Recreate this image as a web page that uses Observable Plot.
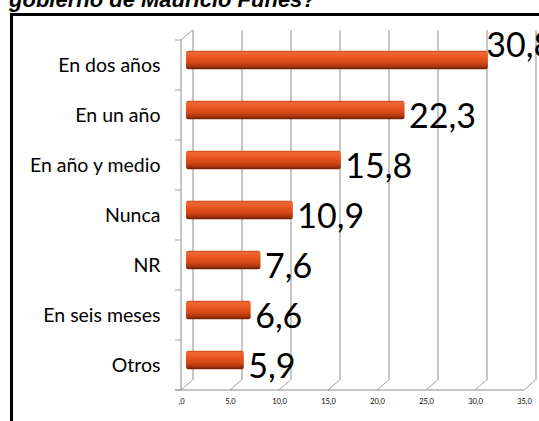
<!DOCTYPE html>
<html>
<head>
<meta charset="utf-8">
<script src="https://cdn.jsdelivr.net/npm/d3@7"></script>
<script src="https://cdn.jsdelivr.net/npm/@observablehq/plot@0.6"></script>
<style>
  html, body { margin: 0; padding: 0; background: #fff; }
  #page { position: relative; width: 539px; height: 421px; overflow: hidden; }
  #title { position: absolute; left: 9px; top: -11px; font: italic bold 22px "Liberation Sans", Arial, sans-serif; line-height: 1; color: #000; white-space: nowrap; }
  #chart { position: absolute; left: 0; top: 14px; }
  #frame { position: absolute; left: 10px; top: 13px; width: 700px; height: 600px; border-left: 3px solid #000; border-top: 3px solid #000; pointer-events: none; }
</style>
</head>
<body>
<div id="page">
  <div id="title">gobierno de Mauricio Funes?</div>
  <div id="chart"></div>
  <div id="frame"></div>
</div>
<script>
const categories = ["En dos años", "En un año", "En año y medio", "Nunca", "NR", "En seis meses", "Otros"];
const values = [30.8, 22.3, 15.8, 10.9, 7.6, 6.6, 5.9];
const tickValues = [0, 5, 10, 15, 20, 25, 30, 35];
const tickLabels = [",0", "5,0", "10,0", "15,0", "20,0", "25,0", "30,0", "35,0"];

const data = categories.map((c, i) => ({cat: c, value: values[i], label: values[i].toFixed(1).replace(".", ",")}));

const DX = 11.5, DY = 10;
const wallColor = "#a0a0a0";

function walls(index, scales, channels, dimensions) {
  const x = scales.x, y = scales.y;
  const top = dimensions.marginTop;
  const bottom = dimensions.height - dimensions.marginBottom;
  const g = d3.create("svg:g").attr("fill", "none").attr("stroke", wallColor).attr("stroke-width", 1);
  const x0 = x(0);
  for (const t of tickValues) {
    g.append("line").attr("x1", x(t)).attr("y1", bottom).attr("x2", x(t) + DX).attr("y2", bottom - DY);
  }
  g.append("line").attr("x1", x0).attr("y1", top).attr("x2", x0 + DX).attr("y2", top - DY);
  const step = y(categories[1]) - y(categories[0]);
  for (let i = 0; i <= categories.length; i++) {
    const yy = y(categories[0]) + i * step;
    g.append("line").attr("x1", x0 - 6).attr("y1", yy).attr("x2", x0).attr("y2", yy);
  }
  g.append("line").attr("x1", x0).attr("y1", top).attr("x2", x0).attr("y2", bottom).attr("stroke", "#8c8c8c");
  g.append("line").attr("x1", x0 - 6).attr("y1", bottom).attr("x2", x(35)).attr("y2", bottom).attr("stroke", "#8c8c8c");
  return g.node();
}

const svg = Plot.plot({
  width: 539,
  height: 407,
  marginLeft: 181,
  marginRight: 15,
  marginTop: 26,
  marginBottom: 31,
  style: {fontFamily: "Lato, sans-serif", background: "transparent", overflow: "hidden"},
  x: {domain: [0, 35], axis: null, label: null},
  y: {domain: categories, padding: 0, axis: null, label: null},
  marks: [
    Plot.ruleX(tickValues, {x: d => d, dx: DX, dy: -DY, stroke: wallColor, strokeWidth: 1.2}),
    walls,
    Plot.barX(data, {x: "value", y: "cat", dx: 5, dy: -5, insetTop: 15.7, insetBottom: 15.7, fill: "url(#barGrad)", rx: 2.5}),
    Plot.axisY({tickSize: 0, tickPadding: 21, fontSize: 19.5, fill: "#000", label: null}),
    Plot.axisX({ticks: tickValues, tickFormat: d => tickLabels[tickValues.indexOf(d)], tickSize: 0, tickPadding: 8, fontSize: 7.5, fill: "#000", label: null}),
    Plot.text(data.filter(d => d.value < 30), {x: "value", y: "cat", text: "label", textAnchor: "start", dx: 9, dy: 2, fontSize: 34, fill: "#000"}),
    Plot.text(data.filter(d => d.value >= 30), {x: "value", y: "cat", text: "label", textAnchor: "start", dx: 3, dy: -19, fontSize: 34, fill: "#000"})
  ]
});

const defs = d3.select(svg).insert("defs", ":first-child");
const grad = defs.append("linearGradient").attr("id", "barGrad").attr("x1", 0).attr("y1", 0).attr("x2", 0).attr("y2", 1);
[[0, "#c8481c"], [0.12, "#ef6a34"], [0.35, "#e85620"], [0.65, "#d44816"], [0.85, "#a8340d"], [1, "#6a1a04"]].forEach(([o, c]) => {
  grad.append("stop").attr("offset", o).attr("stop-color", c);
});

document.getElementById("chart").appendChild(svg);
</script>
</body>
</html>
